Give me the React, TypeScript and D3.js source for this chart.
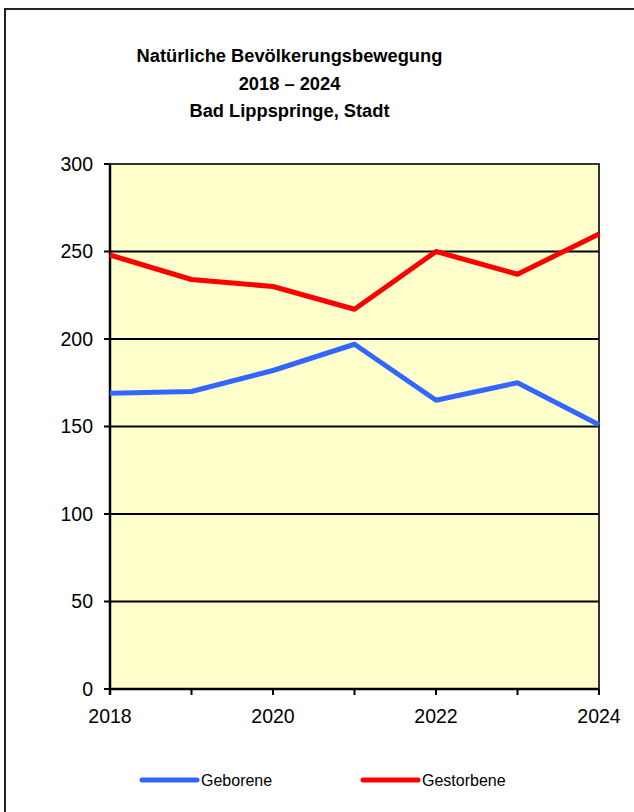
import React from "react";
import * as d3 from "d3";

const years = [2018, 2019, 2020, 2021, 2022, 2023, 2024];
const geborene = [169, 170, 182, 197, 165, 175, 151];
const gestorbene = [248, 234, 230, 217, 250, 237, 260];
const yTicks = [0, 50, 100, 150, 200, 250, 300];
const xLabelYears = [2018, 2020, 2022, 2024];
const titleLines = ["Natürliche Bevölkerungsbewegung", "2018 – 2024", "Bad Lippspringe, Stadt"];
const seriesNames = ["Geborene", "Gestorbene"];
const seriesColors = ["#3366FF", "#FF0000"];

export default function App() {
  const W = 634, H = 812;
  const left = 110, right = 599, top = 164, bottom = 689;
  const x = d3.scalePoint<number>().domain(years).range([left, right]);
  const y = d3.scaleLinear().domain([0, 300]).range([bottom, top]);
  const line = d3.line<number>().x((_, i) => x(years[i])!).y((d) => y(d));
  const series = [geborene, gestorbene];
  const font = "Liberation Sans, Arial, sans-serif";
  return (
    <svg width={W} height={H} style={{ position: "absolute", left: 0, top: 0, display: "block" }} fontFamily={font}>
      <rect x={0} y={0} width={W} height={H} fill="#fff" />
      <rect x={5} y={9} width={800} height={900} fill="none" stroke="#222" strokeWidth={2} />
      {titleLines.map((t, i) => (
        <text key={i} x={289.5} y={62 + i * 27.5} textAnchor="middle" fontSize={18.3} fontWeight="bold" fill="#000">{t}</text>
      ))}
      <rect x={left} y={top} width={right - left} height={bottom - top} fill="#FFFFCC" stroke="#333" strokeWidth={2} />
      {yTicks.map((t) => (
        <g key={t}>
          {t > 0 && t < 300 && <line x1={left} x2={right} y1={y(t)} y2={y(t)} stroke="#000" strokeWidth={2} />}
          <line x1={left - 6} x2={left} y1={y(t)} y2={y(t)} stroke="#000" strokeWidth={2} />
          <text x={93} y={y(t)} dy="0.35em" textAnchor="end" fontSize={19.5} fill="#000">{t}</text>
        </g>
      ))}
      <line x1={left} x2={left} y1={top} y2={bottom + 6} stroke="#000" strokeWidth={2.5} />
      <line x1={left} x2={right} y1={bottom} y2={bottom} stroke="#000" strokeWidth={2.5} />
      {years.map((yr) => (
        <line key={yr} x1={x(yr)} x2={x(yr)} y1={bottom} y2={bottom + 6} stroke="#000" strokeWidth={2} />
      ))}
      {xLabelYears.map((yr) => (
        <text key={yr} x={x(yr)} y={723} textAnchor="middle" fontSize={19.5} fill="#000">{yr}</text>
      ))}
      {series.map((s, i) => (
        <path key={i} d={line(s)!} fill="none" stroke={seriesColors[i]} strokeWidth={5} strokeLinejoin="round" />
      ))}
      {seriesNames.map((n, i) => {
        const lx = i === 0 ? 142 : 363;
        return (
          <g key={n}>
            <line x1={lx} x2={lx + 55} y1={780} y2={780} stroke={seriesColors[i]} strokeWidth={5} strokeLinecap="round" />
            <text x={lx + 59} y={780} dy="0.35em" fontSize={16} fill="#000">{n}</text>
          </g>
        );
      })}
    </svg>
  );
}
